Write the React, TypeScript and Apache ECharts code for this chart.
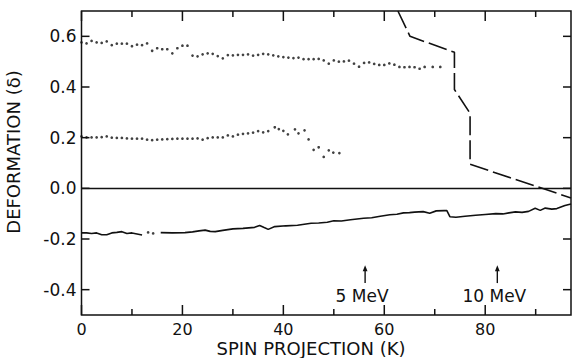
import React, { useEffect, useRef } from 'react';
import * as echarts from 'echarts';

const FONT = '"DejaVu Sans", "Liberation Sans", sans-serif';
const INK = '#111111';

// Upper dotted series (K, delta)
const upperDots = [
  [0, 0.576], [1, 0.572], [2, 0.582], [3, 0.576], [4, 0.574], [5, 0.58], [6, 0.565], [7, 0.571],
  [8, 0.571], [9, 0.571], [10, 0.561], [11, 0.567], [12, 0.565], [13, 0.572], [14, 0.543], [15, 0.553],
  [16, 0.549], [17, 0.549], [18, 0.533], [19, 0.553], [20, 0.563], [21, 0.563], [22, 0.524], [23, 0.521],
  [24, 0.529], [25, 0.533], [26, 0.531], [27, 0.522], [28, 0.513], [29, 0.526], [30, 0.525], [31, 0.527],
  [32, 0.527], [33, 0.529], [34, 0.524], [35, 0.527], [36, 0.531], [37, 0.529], [38, 0.525], [39, 0.521],
  [40, 0.518], [41, 0.516], [42, 0.514], [43, 0.516], [44, 0.51], [45, 0.51], [46, 0.51], [47, 0.511],
  [48, 0.505], [49, 0.492], [50, 0.505], [51, 0.5], [52, 0.501], [53, 0.504], [54, 0.492], [55, 0.48],
  [56, 0.495], [57, 0.497], [58, 0.491], [59, 0.487], [60, 0.487], [61, 0.493], [62, 0.488], [63, 0.479],
  [64, 0.478], [65, 0.479], [66, 0.478], [67, 0.472], [68, 0.479], [69.6, 0.479], [71.1, 0.479],
];

// Middle dotted series
const middleDots = [
  [0, 0.205], [1, 0.201], [2, 0.201], [3, 0.201], [4, 0.202], [5, 0.205], [6, 0.2], [7, 0.199],
  [8, 0.199], [9, 0.197], [10, 0.196], [11, 0.196], [12, 0.196], [13, 0.192], [14, 0.19], [15, 0.192],
  [16, 0.193], [17, 0.194], [18, 0.195], [19, 0.196], [20, 0.196], [21, 0.196], [22, 0.196], [23, 0.197],
  [24, 0.192], [25, 0.198], [26, 0.201], [27, 0.201], [28, 0.201], [29, 0.209], [30, 0.205], [31, 0.212],
  [32, 0.215], [33, 0.217], [34, 0.22], [35, 0.226], [36, 0.221], [37, 0.226], [38.3, 0.241], [39.1, 0.234],
  [40, 0.227], [40.9, 0.213], [42.3, 0.233], [43, 0.217], [44.2, 0.229], [45, 0.193], [46, 0.152], [47, 0.162],
  [48, 0.124], [49, 0.15], [49.9, 0.141], [51.1, 0.139],
];

// Lower solid curve, first piece, the two dots in its gap, and the main piece
const lowerPieceA = [
  [0, -0.176], [1, -0.176], [2, -0.178], [3, -0.176], [4, -0.183], [5, -0.183], [6, -0.176],
  [7, -0.174], [8, -0.171], [9, -0.178], [10, -0.176], [11, -0.18], [12, -0.184],
];
const lowerGapDots = [[13.2, -0.174], [14.2, -0.178]];
const lowerPieceB = [
  [15.7, -0.175], [18, -0.176], [20.5, -0.175], [22, -0.172], [23.3, -0.168], [24.5, -0.165],
  [25.5, -0.17], [26.5, -0.171], [28, -0.166], [30, -0.16], [32, -0.158], [34.3, -0.154],
  [35.3, -0.147], [36.2, -0.155], [37, -0.162], [38.3, -0.151], [40.5, -0.148], [42.8, -0.146],
  [45.5, -0.138], [47, -0.137], [48.7, -0.134], [50, -0.128], [51.5, -0.129], [53.3, -0.124],
  [55.9, -0.118], [57.5, -0.116], [59.2, -0.11], [61.1, -0.104], [62.5, -0.102], [63.8, -0.097],
  [65, -0.096], [66, -0.094], [67.7, -0.092], [69, -0.098], [70.3, -0.089], [71.9, -0.088],
  [72.4, -0.088], [73, -0.112], [74.2, -0.114], [76, -0.11], [78.1, -0.106], [80, -0.103],
  [82.1, -0.1], [83.5, -0.101], [84.7, -0.097], [86, -0.093], [87.3, -0.095], [88.6, -0.091],
  [89.9, -0.079], [90.9, -0.087], [91.9, -0.078], [93.2, -0.082], [94.2, -0.08], [95.8, -0.068],
  [97, -0.062],
];

// Dashed curve
const dashedCurve = [
  [62.7, 0.7], [65.1, 0.6], [73.9, 0.537], [73.9, 0.39], [77, 0.296], [77, 0.095], [97, -0.038],
];

// Axes
const X_MIN = 0;
const X_MAX = 97;
const Y_MIN = -0.5;
const Y_MAX = 0.7;
const xMajorTicks = [0, 20, 40, 60, 80];
const xMinorTicks = [10, 30, 50, 70, 90];
const yTicks = [-0.4, -0.2, 0, 0.2, 0.4, 0.6];

// Energy markers
const markerK = [56.2, 82.4];
const markerLabels = ['5 MeV', '10 MeV'];

export default function App() {
  const ref = useRef<HTMLDivElement>(null);

  useEffect(() => {
    if (!ref.current) return;
    const chart = echarts.init(ref.current, null, { renderer: 'svg' });

    const tickData = [
      ...xMajorTicks.flatMap((v) => [[v, Y_MIN, 0, -10], [v, Y_MAX, 0, 10]]),
      ...xMinorTicks.flatMap((v) => [[v, Y_MIN, 0, -6], [v, Y_MAX, 0, 6]]),
      ...yTicks.flatMap((v) => [[X_MIN, v, 8, 0], [X_MAX, v, -8, 0]]),
    ];

    const dotSeries = (data: number[][]) => ({
      type: 'scatter',
      data,
      symbol: 'circle',
      symbolSize: 2.7,
      itemStyle: { color: INK },
      silent: true,
    });

    const solid = (data: number[][]) => ({
      type: 'line',
      data,
      symbol: 'none',
      lineStyle: { color: INK, width: 1.6 },
      silent: true,
    });

    chart.setOption({
      animation: false,
      backgroundColor: '#ffffff',
      grid: {
        left: 81.5,
        top: 11,
        width: 495,
        height: 304,
        show: true,
        borderColor: INK,
        borderWidth: 1.5,
        backgroundColor: 'transparent',
      },
      xAxis: {
        type: 'value',
        min: X_MIN,
        max: X_MAX,
        interval: 10,
        axisLine: { show: false },
        axisTick: { show: false },
        splitLine: { show: false },
        axisLabel: {
          margin: 6,
          color: INK,
          fontFamily: FONT,
          fontSize: 16,
          formatter: (v: number) => (xMajorTicks.includes(Math.round(v)) && Math.abs(v - Math.round(v)) < 1e-6 ? String(Math.round(v)) : ''),
        },
      },
      yAxis: {
        type: 'value',
        min: Y_MIN,
        max: Y_MAX,
        interval: 0.1,
        axisLine: { show: false },
        axisTick: { show: false },
        splitLine: { show: false },
        axisLabel: {
          margin: 5,
          color: INK,
          fontFamily: FONT,
          fontSize: 17,
          formatter: (v: number) => {
            const t = Math.round(v * 10);
            const m = yTicks.find((y) => Math.round(y * 10) === t && Math.abs(v - y) < 1e-6);
            return m === undefined ? '' : m.toFixed(1);
          },
        },
      },
      graphic: [
        {
          type: 'text',
          x: 13.5,
          y: 152,
          rotation: Math.PI / 2,
          style: {
            text: 'DEFORMATION (δ)',
            fill: INK,
            fontFamily: FONT,
            fontSize: 18,
            align: 'center',
            verticalAlign: 'middle',
          },
        },
        {
          type: 'text',
          x: 311,
          y: 348.5,
          style: {
            text: 'SPIN PROJECTION (K)',
            fill: INK,
            fontFamily: FONT,
            fontSize: 18,
            align: 'center',
            verticalAlign: 'middle',
          },
        },
      ],
      series: [
        {
          type: 'line',
          data: dashedCurve,
          symbol: 'none',
          lineStyle: { color: INK, width: 1.6, type: [19, 5] },
          silent: true,
          markLine: {
            silent: true,
            symbol: 'none',
            label: { show: false },
            lineStyle: { color: INK, width: 1.3, type: 'solid' },
            data: [{ yAxis: 0 }],
          },
        },
        solid(lowerPieceA),
        solid(lowerPieceB),
        dotSeries(lowerGapDots),
        dotSeries(upperDots),
        dotSeries(middleDots),
        {
          type: 'custom',
          silent: true,
          data: tickData,
          encode: { x: 0, y: 1 },
          renderItem: (params: any, api: any) => {
            const p = api.coord([api.value(0), api.value(1)]);
            return {
              type: 'line',
              shape: { x1: p[0], y1: p[1], x2: p[0] + api.value(2), y2: p[1] + api.value(3) },
              style: { stroke: INK, lineWidth: 1.5 },
            };
          },
        },
        {
          type: 'custom',
          silent: true,
          data: markerK.map((k, i) => [k, -0.374, i]),
          encode: { x: 0, y: 1 },
          renderItem: (params: any, api: any) => {
            const k = api.value(0);
            const i = api.value(2);
            const tail = api.coord([k, -0.374]);
            const head = api.coord([k, -0.304]);
            const txt = api.coord([k, -0.425]);
            return {
              type: 'group',
              children: [
                {
                  type: 'line',
                  shape: { x1: tail[0], y1: tail[1], x2: head[0], y2: head[1] + 4 },
                  style: { stroke: INK, lineWidth: 1.4 },
                },
                {
                  type: 'polygon',
                  shape: { points: [[head[0] - 2.4, head[1] + 6], [head[0] + 2.4, head[1] + 6], [head[0], head[1]]] },
                  style: { fill: INK },
                },
                {
                  type: 'text',
                  x: txt[0] - 3,
                  y: txt[1],
                  style: {
                    text: markerLabels[i],
                    fill: INK,
                    fontFamily: FONT,
                    fontSize: 17,
                    align: 'center',
                    verticalAlign: 'middle',
                  },
                },
              ],
            };
          },
        },
      ],
    });

    return () => chart.dispose();
  }, []);

  return (
    <div
      ref={ref}
      style={{ position: 'absolute', left: 0, top: 0, width: 574, height: 358, background: '#fff' }}
    />
  );
}
